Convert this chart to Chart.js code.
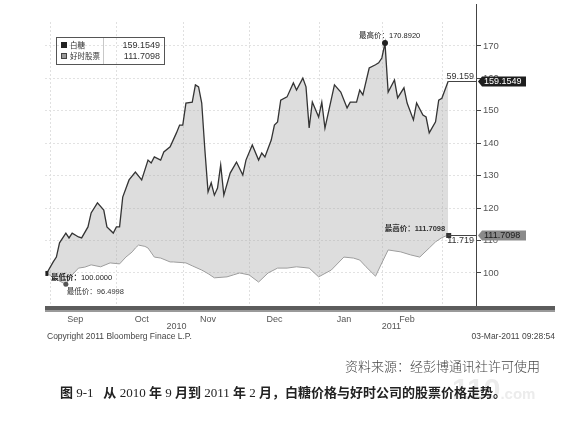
<!DOCTYPE html>
<html lang="zh">
<head>
<meta charset="UTF-8">
<title>白糖价格与好时股票价格</title>
<script src="https://cdn.jsdelivr.net/npm/chart.js"></script>
<style>
  html, body { margin: 0; padding: 0; background: #fff; }
  body { width: 573px; height: 424px; position: relative; overflow: hidden; font-family: "Liberation Sans", Arial, sans-serif; }
  #chart { position: absolute; left: 0; top: 0; }
  .txt { position: absolute; white-space: nowrap; }
  .small { font-size: 8.5px; color: #444; }
  .source { right: 33px; top: 356px; font-size: 13px; color: #444; font-family: "Noto Sans CJK SC", sans-serif; font-weight: 300; }
  .caption { left: 60px; top: 382px; font-size: 13px; color: #222; font-weight: bold; font-family: "Liberation Serif", "Noto Sans CJK SC", serif; }
  .caption .n { font-weight: normal; }
  .mark { left: 452px; top: 372px; font-size: 30px; font-weight: bold; color: #ececec; font-family: "Liberation Sans", sans-serif; }
  .mark span { font-size: 15px; }
</style>
</head>
<body>

<canvas id="chart" width="573" height="345"></canvas>

<div class="txt small" style="left:47px; top:331px;">Copyright 2011 Bloomberg Finace L.P.</div>
<div class="txt small" style="right:18px; top:331px;">03-Mar-2011 09:28:54</div>
<div class="txt mark">110<span>.com</span></div>
<div class="txt source">资料来源：经彭博通讯社许可使用</div>
<div class="txt caption">图 <span class="n">9-1</span>&nbsp;&nbsp;&nbsp;从 <span class="n">2010</span> 年 <span class="n">9</span> 月到 <span class="n">2011</span> 年 <span class="n">2</span> 月，白糖价格与好时公司的股票价格走势。</div>

<script>
    // series names and axis labels
    const seriesNames = ['白糖', '好时股票'];
    const monthNames = ['Sep', 'Oct', 'Nov', 'Dec', 'Jan', 'Feb'];
    const yearNames = ['2010', '2011'];
    const yTicks = [100, 110, 120, 130, 140, 150, 160, 170];

    // trading-day index (0 = 31 Aug 2010) where each month begins, and where the year labels sit
    const monthStarts = [1, 22, 43, 64, 86, 106, 125];
    const yearDays = [41, 109];

    // white sugar, rebased to 100
    const sugarDays = [0, 2, 3, 4, 6, 7, 8, 10, 11, 13, 14, 16, 18, 19, 21, 22, 23, 24, 26, 28,
        30, 32, 33, 34, 36, 37, 39, 41, 42, 43, 44, 46, 47, 48, 49, 50, 51, 52, 53, 54,
        55, 56, 58, 60, 62, 63, 65, 67, 68, 69, 71, 72, 73, 74, 76, 78, 79, 81, 82, 83,
        84, 86, 87, 88, 91, 93, 95, 96, 98, 99, 100, 102, 104, 105, 106, 107, 108, 110, 111, 113,
        114, 116, 117, 119, 120, 121, 123, 124, 125, 127];
    const sugarValues = [100.0, 103.4, 104.9, 109.3, 112.3, 110.8, 112.3, 111.1, 110.8, 114.2,
        118.5, 121.6, 119.4, 114.2, 112.3, 114.2, 114.2, 123.4, 128.7, 131.1,
        128.7, 134.8, 133.9, 135.8, 134.8, 137.3, 138.9, 143.2, 145.6, 145.6,
        152.4, 152.7, 158.0, 157.4, 152.4, 137.9, 125.0, 127.8, 124.0, 126.2,
        133.3, 124.0, 130.8, 134.2, 130.2, 134.8, 139.5, 134.8, 137.0, 135.8,
        141.0, 145.6, 146.6, 153.3, 154.3, 158.6, 156.4, 160.1, 157.4, 144.7,
        152.7, 148.1, 152.7, 144.7, 158.0, 155.8, 150.9, 152.7, 152.7, 156.4,
        154.9, 163.2, 164.2, 164.8, 166.3, 170.892, 155.8, 159.5, 154.0, 157.1,
        152.4, 147.2, 152.4, 148.7, 148.1, 143.2, 146.6, 153.3, 153.9, 159.1549];

    // Hershey share price, rebased to 100
    const hersheyDays = [0, 2, 4, 6, 8, 10, 12, 14, 17, 20, 23, 25, 27, 28, 29, 31, 32, 34, 36, 39,
        40, 44, 46, 49, 51, 53, 57, 59, 61, 64, 67, 70, 73, 76, 79, 83, 86, 90, 94, 97,
        99, 101, 104, 106, 108, 112, 115, 118, 121, 123, 125, 127];
    const hersheyValues = [100.0, 98.5, 97.5, 96.4998, 99.4, 101.5, 101.8, 102.5, 101.9, 103.1,
        102.8, 104.9, 106.5, 107.7, 108.6, 108.2, 107.7, 104.9, 104.6, 103.4,
        103.4, 103.1, 102.2, 100.9, 99.8, 98.5, 98.8, 99.4, 100.0, 99.4,
        97.2, 100.0, 101.5, 101.5, 101.9, 101.5, 98.8, 100.9, 104.9, 104.6,
        104.0, 101.9, 99.0, 103.1, 107.1, 106.5, 105.6, 104.9, 107.7, 109.6,
        110.9, 111.7098];

    // labels that appear truncated on the original end-of-line tags
    const endTags = ['59.159', '11.719'];

    function toPoints(days, values) {
        return days.map((d, i) => ({ x: d, y: values[i] }));
    }

    const numFont = '"Liberation Sans", "Noto Sans CJK SC", sans-serif';

    // extra drawing: month gridlines, bottom band, legend box, high/low marks
    const decorations = {
        id: 'decorations',
        beforeDatasetsDraw(chart) {
            const { ctx, chartArea: a, scales: { x } } = chart;
            ctx.save();
            ctx.strokeStyle = '#e0e0e0';
            ctx.lineWidth = 1;
            ctx.setLineDash([2, 2]);
            monthStarts.forEach(m => {
                const px = Math.round(x.getPixelForValue(m)) + 0.5;
                ctx.beginPath();
                ctx.moveTo(px, a.top);
                ctx.lineTo(px, a.bottom);
                ctx.stroke();
            });
            ctx.restore();
        },
        afterDraw(chart) {
            const { ctx, chartArea: a, scales: { x, y } } = chart;
            ctx.save();

            // axis line runs up to the top of the picture
            ctx.strokeStyle = '#444';
            ctx.lineWidth = 1;
            ctx.beginPath();
            ctx.moveTo(Math.round(a.right) + 0.5, 4);
            ctx.lineTo(Math.round(a.right) + 0.5, a.top);
            ctx.stroke();

            // dark time band under the plot
            ctx.fillStyle = '#5c5c5c';
            ctx.fillRect(a.left, a.bottom - 1, 555 - a.left, 4);
            ctx.fillStyle = '#9a9a9a';
            ctx.fillRect(a.left, a.bottom + 3, 555 - a.left, 2);

            // year labels
            ctx.fillStyle = '#555';
            ctx.font = '9px ' + numFont;
            ctx.textAlign = 'center';
            ctx.textBaseline = 'middle';
            yearNames.forEach((t, i) => ctx.fillText(t, x.getPixelForValue(yearDays[i]), 327));

            // legend box
            const last0 = sugarValues[sugarValues.length - 1];
            const last1 = hersheyValues[hersheyValues.length - 1];
            ctx.strokeStyle = '#555';
            ctx.strokeRect(56.5, 37.5, 108, 27);
            ctx.strokeStyle = '#c8c8c8';
            ctx.beginPath();
            ctx.moveTo(103.5, 38);
            ctx.lineTo(103.5, 64);
            ctx.stroke();
            ctx.fillStyle = '#222';
            ctx.fillRect(61, 42, 6, 6);
            ctx.fillStyle = '#9a9a9a';
            ctx.fillRect(61, 53, 6, 6);
            ctx.strokeStyle = '#444';
            ctx.strokeRect(61.5, 53.5, 5, 5);
            ctx.fillStyle = '#333';
            ctx.textAlign = 'left';
            ctx.font = '7.5px "Noto Sans CJK SC", sans-serif';
            ctx.fillText(seriesNames[0], 70, 45.5);
            ctx.fillText(seriesNames[1], 70, 56.5);
            ctx.textAlign = 'right';
            ctx.font = '9px ' + numFont;
            ctx.fillText(last0.toFixed(4), 160, 45.5);
            ctx.fillText(last1.toFixed(4), 160, 56.5);

            // markers and high/low labels
            const sMax = Math.max(...sugarValues);
            const sMaxDay = sugarDays[sugarValues.indexOf(sMax)];
            const sMin = Math.min(...sugarValues);
            const sMinDay = sugarDays[sugarValues.indexOf(sMin)];
            const hMax = Math.max(...hersheyValues);
            const hMaxDay = hersheyDays[hersheyValues.indexOf(hMax)];
            const hMin = Math.min(...hersheyValues);
            const hMinDay = hersheyDays[hersheyValues.indexOf(hMin)];

            ctx.fillStyle = '#222';
            let px = x.getPixelForValue(sMaxDay), py = y.getPixelForValue(sMax);
            ctx.beginPath();
            ctx.arc(px, py, 3, 0, Math.PI * 2);
            ctx.fill();
            ctx.textAlign = 'left';
            ctx.font = '7.5px ' + numFont;
            ctx.fillText('最高价：' + sMax.toFixed(4), px - 26, py - 7);

            px = x.getPixelForValue(sMinDay); py = y.getPixelForValue(sMin);
            ctx.fillRect(px - 1.5, py - 2, 3, 5);
            ctx.font = 'bold 7.5px ' + numFont;
            ctx.fillText('最低价：', px + 4, py + 5);
            ctx.font = '7.5px ' + numFont;
            ctx.fillText(sMin.toFixed(4), px + 34, py + 5);

            px = x.getPixelForValue(hMinDay); py = y.getPixelForValue(hMin);
            ctx.fillStyle = '#555';
            ctx.beginPath();
            ctx.arc(px, py, 2.5, 0, Math.PI * 2);
            ctx.fill();
            ctx.fillStyle = '#333';
            ctx.font = '7.5px ' + numFont;
            ctx.fillText('最低价：' + hMin.toFixed(4), px + 1, py + 8);

            px = x.getPixelForValue(hMaxDay); py = y.getPixelForValue(hMax);
            ctx.fillStyle = '#333';
            ctx.fillRect(px - 2, py - 2, 5, 5);
            ctx.textAlign = 'right';
            ctx.font = 'bold 7.5px ' + numFont;
            ctx.fillText('最高价：' + hMax.toFixed(4), px - 3, py - 6);

            // end-of-line leaders and axis value tags
            const tags = [
                { day: sugarDays[sugarDays.length - 1], v: last0, text: endTags[0], bg: '#1e1e1e', fg: '#fff', up: true },
                { day: hersheyDays[hersheyDays.length - 1], v: last1, text: endTags[1], bg: '#8a8a8a', fg: '#1a1a1a', up: false }
            ];
            tags.forEach(t => {
                const tx = x.getPixelForValue(t.day);
                const ty = Math.round(y.getPixelForValue(t.v)) + 0.5;
                ctx.strokeStyle = '#444';
                ctx.lineWidth = 1;
                ctx.beginPath();
                ctx.moveTo(tx, ty);
                ctx.lineTo(a.right, ty);
                ctx.stroke();
                ctx.fillStyle = '#333';
                ctx.textAlign = 'right';
                ctx.font = '9px ' + numFont;
                ctx.fillText(t.text, a.right - 2, t.up ? ty - 5 : ty + 5);

                const bx = a.right + 2;
                ctx.fillStyle = t.bg;
                ctx.beginPath();
                ctx.moveTo(bx, ty);
                ctx.lineTo(bx + 4, ty - 5);
                ctx.lineTo(bx + 48, ty - 5);
                ctx.lineTo(bx + 48, ty + 5);
                ctx.lineTo(bx + 4, ty + 5);
                ctx.closePath();
                ctx.fill();
                ctx.fillStyle = t.fg;
                ctx.textAlign = 'left';
                ctx.fillText(t.v.toFixed(4), bx + 6, ty + 0.5);
            });

            ctx.restore();
        }
    };

    new Chart(document.getElementById('chart'), {
        type: 'line',
        data: {
            datasets: [{
                label: seriesNames[0],
                data: toPoints(sugarDays, sugarValues),
                borderColor: '#343434',
                borderWidth: 1.3,
                pointRadius: 0,
                tension: 0,
                fill: '+1',
                backgroundColor: 'rgba(170,170,170,0.4)'
            }, {
                label: seriesNames[1],
                data: toPoints(hersheyDays, hersheyValues),
                borderColor: '#9a9a9a',
                borderWidth: 1,
                pointRadius: 0,
                tension: 0,
                fill: false
            }]
        },
        options: {
            responsive: false,
            animation: false,
            layout: { padding: { left: 45, top: 22, right: 0, bottom: 0 } },
            plugins: {
                legend: { display: false },
                tooltip: { enabled: false }
            },
            scales: {
                x: {
                    type: 'linear',
                    min: -0.6,
                    max: 135.8,
                    grid: { display: false, drawTicks: false },
                    border: { display: false },
                    afterBuildTicks: s => { s.ticks = monthStarts.slice(0, 6).map(m => ({ value: m + 8 })); },
                    afterFit: s => { s.height = 38; },
                    ticks: {
                        autoSkip: false,
                        maxRotation: 0,
                        padding: 7,
                        color: '#555',
                        font: { size: 9, family: 'Liberation Sans' },
                        callback: (v, i) => monthNames[i]
                    }
                },
                y: {
                    position: 'right',
                    min: 89.5,
                    max: 177.4,
                    afterBuildTicks: s => { s.ticks = yTicks.map(v => ({ value: v })); },
                    afterFit: s => { s.width = 97; },
                    grid: { color: '#e2e2e2', tickLength: 5, tickColor: '#444', drawTicks: true },
                    border: { color: '#444', width: 1, dash: [2, 2] },
                    ticks: {
                        color: '#555',
                        padding: 2,
                        font: { size: 9.5, family: 'Liberation Sans' }
                    }
                }
            }
        },
        plugins: [decorations]
    });
</script>
</body>
</html>
